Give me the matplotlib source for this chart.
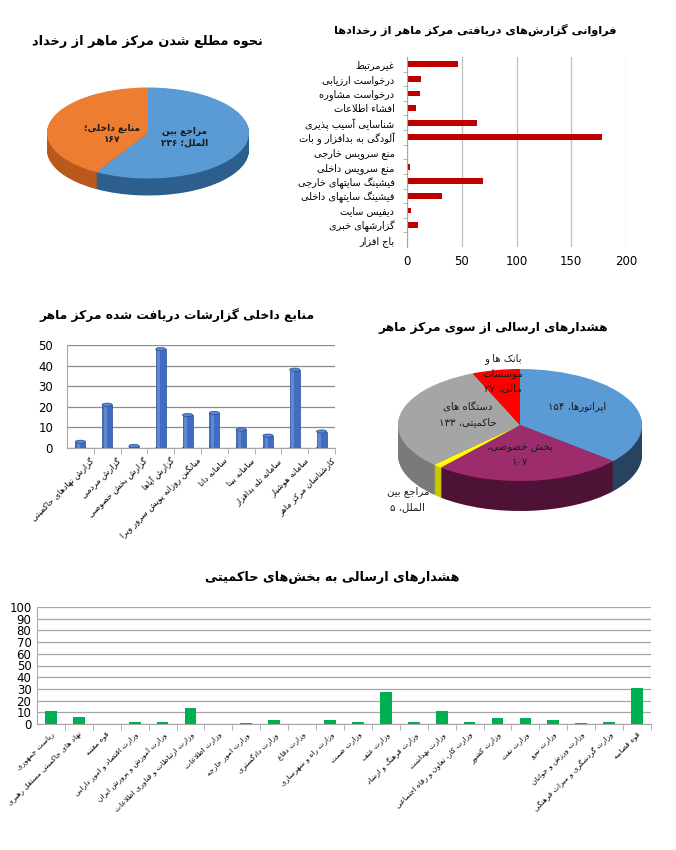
import matplotlib
matplotlib.use("Agg")
import matplotlib.pyplot as plt
from matplotlib.patches import Ellipse
from matplotlib.transforms import ScaledTranslation

W, H = 676, 850

# ---------------- data ----------------
PIE1_TITLE = "نحوه مطلع شدن مرکز ماهر از رخداد"
PIE1_LABEL_FMT = ["مراجع بین\nالملل؛ {}", "منابع داخلی؛\n{}"]
PIE1_VALUES = [236, 167]

BARH_TITLE = "فراوانی گزارش‌های دریافتی مرکز ماهر از رخدادها"
BARH_CATS = [
    "غیرمرتبط", "درخواست ارزیابی", "درخواست مشاوره", "افشاء اطلاعات",
    "شناسایی آسیب پذیری", "آلودگی به بدافزار و بات", "منع سرویس خارجی",
    "منع سرویس داخلی", "فیشینگ سایتهای خارجی", "فیشینگ سایتهای داخلی",
    "دیفیس سایت", "گزارشهای خبری", "باج افزار",
]
BARH_VALUES = [47, 13, 12, 8, 64, 178, 1, 3, 69, 32, 4, 10, 1]
BARH_TICKS = [0, 50, 100, 150, 200]

SRC_TITLE = "منابع داخلی گزارشات دریافت شده مرکز ماهر"
SRC_CATS = [
    "گزارش نهادهای حاکمیتی", "گزارش مردمی", "گزارش بخش خصوصی", "گزارش آپاها",
    "میانگین روزانه پویش سرور ویرا", "سامانه دانا", "سامانه بینا",
    "سامانه تله بدافزار", "سامانه هوشیار", "کارشناسان مرکز ماهر",
]
SRC_VALUES = [3, 21, 1, 48, 16, 17, 9, 6, 38, 8]
SRC_TICKS = [0, 10, 20, 30, 40, 50]

PIE2_TITLE = "هشدارهای ارسالی از سوی مرکز ماهر"
PIE2_LABEL_FMT = [
    "اپراتورها، {}", "بخش خصوصی،\n{}", "مراجع بین\nالملل، {}",
    "دستگاه های\nحاکمیتی، {}", "بانک ها و\nموسسات\nمالی، {}",
]
PIE2_VALUES = [154, 107, 5, 133, 27]

GOV_TITLE = "هشدارهای ارسالی به بخش‌های حاکمیتی"
GOV_CATS = [
    "ریاست جمهوری", "نهاد های حاکمیتی مستقل رهبری", "قوه مقننه",
    "وزارت اقتصاد و امور دارایی", "وزارت آموزش و پرورش ایران",
    "وزارت ارتباطات و فناوری اطلاعات", "وزارت اطلاعات", "وزارت امور خارجه",
    "وزارت دادگستری", "وزارت دفاع", "وزارت راه و شهرسازی", "وزارت صمت",
    "وزارت عتف", "وزارت فرهنگ و ارشاد", "وزارت بهداشت",
    "وزارت کار، تعاون و رفاه اجتماعی", "وزارت کشور", "وزارت نفت",
    "وزارت نیرو", "وزارت ورزش و جوانان", "وزارت گردشگری و میراث فرهنگی",
    "قوه قضاییه",
]
GOV_VALUES = [11, 6, 0, 2, 2, 14, 0, 1, 3, 0, 3, 2, 27, 2, 11, 2, 5, 5, 3, 1, 2, 31]
GOV_TICKS = list(range(0, 101, 10))

# ---------------- persian shaping (no bidi lib available) ----------------
DUAL = {
    0x0626: 0xFE89, 0x0628: 0xFE8F, 0x062A: 0xFE95, 0x062B: 0xFE99,
    0x062C: 0xFE9D, 0x062D: 0xFEA1, 0x062E: 0xFEA5, 0x0633: 0xFEB1,
    0x0634: 0xFEB5, 0x0635: 0xFEB9, 0x0636: 0xFEBD, 0x0637: 0xFEC1,
    0x0638: 0xFEC5, 0x0639: 0xFEC9, 0x063A: 0xFECD, 0x0641: 0xFED1,
    0x0642: 0xFED5, 0x0643: 0xFED9, 0x0644: 0xFEDD, 0x0645: 0xFEE1,
    0x0646: 0xFEE5, 0x0647: 0xFEE9, 0x064A: 0xFEF1, 0x067E: 0xFB56,
    0x0686: 0xFB7A, 0x06A9: 0xFB8E, 0x06AF: 0xFB92, 0x06CC: 0xFBFC,
}
RIGHT = {
    0x0622: 0xFE81, 0x0623: 0xFE83, 0x0624: 0xFE85, 0x0625: 0xFE87,
    0x0627: 0xFE8D, 0x0629: 0xFE93, 0x062F: 0xFEA9, 0x0630: 0xFEAB,
    0x0631: 0xFEAD, 0x0632: 0xFEAF, 0x0648: 0xFEED, 0x0649: 0xFEEF,
    0x0698: 0xFB8A,
}
LAM_ALEF = {0x0622: 0xFEF5, 0x0623: 0xFEF7, 0x0625: 0xFEF9, 0x0627: 0xFEFB}
DIGITS = set("0123456789۰۱۲۳۴۵۶۷۸۹")


def join_type(g):
    kind, c = g
    if kind == "LA":
        return "R"
    if ord(c) in DUAL:
        return "D"
    if ord(c) in RIGHT:
        return "R"
    return "U"


def shape_line(line):
    glyphs = []
    i = 0
    while i < len(line):
        c = line[i]
        if c == "\u0644" and i + 1 < len(line) and ord(line[i + 1]) in LAM_ALEF:
            glyphs.append(("LA", line[i + 1]))
            i += 2
        else:
            glyphs.append(("C", c))
            i += 1
    out = []
    for k, g in enumerate(glyphs):
        t = join_type(g)
        prev_d = k > 0 and join_type(glyphs[k - 1]) == "D"
        next_j = k + 1 < len(glyphs) and join_type(glyphs[k + 1]) in ("D", "R")
        jp = t != "U" and prev_d
        jn = t == "D" and next_j
        kind, c = g
        if kind == "LA":
            out.append(chr(LAM_ALEF[ord(c)] + (1 if jp else 0)))
        elif t == "D":
            off = 3 if (jp and jn) else 1 if jp else 2 if jn else 0
            out.append(chr(DUAL[ord(c)] + off))
        elif t == "R":
            out.append(chr(RIGHT[ord(c)] + (1 if jp else 0)))
        elif c != "\u200c":
            out.append(c)
    # visual order: reverse, keeping digit runs left-to-right
    runs = []
    for ch in out:
        is_d = ch in DIGITS
        if runs and runs[-1][0] == is_d:
            runs[-1][1].append(ch)
        else:
            runs.append([is_d, [ch]])
    vis = ""
    for is_d, chars in reversed(runs):
        vis += "".join(chars) if is_d else "".join(reversed(chars))
    return vis


def fa(text):
    return "\n".join(shape_line(s) for s in text.split("\n"))


def fa_num(n):
    return str(n).translate(str.maketrans("0123456789", "۰۱۲۳۴۵۶۷۸۹"))


plt.rcParams["font.family"] = ["DejaVu Sans"]

fig = plt.figure(figsize=(W / 100, H / 100), dpi=100)


def px_axes(left, top, right, bottom):
    return fig.add_axes([left / W, 1 - bottom / H, (right - left) / W, (bottom - top) / H])


def title(x, y, text, size):
    fig.text(x / W, 1 - y / H, fa(text), ha="center", va="center",
             fontsize=size, fontweight="bold")


def shift_labels(ax, dx_px, dy_px=0):
    offset = ScaledTranslation(dx_px / 100, dy_px / 100, fig.dpi_scale_trans)
    for lab in ax.get_xticklabels():
        lab.set_transform(lab.get_transform() + offset)


def pie_3d(box, center, rx, ry, depth, values, colors, walls):
    ax = px_axes(*box)
    d = depth / ry
    steps = 30
    for k in range(steps, 0, -1):
        ax.pie(values, colors=walls, startangle=90, counterclock=False,
               center=(0, -d * k / steps), radius=1,
               wedgeprops={"linewidth": 0})
    ax.pie(values, colors=colors, startangle=90, counterclock=False,
           center=(0, 0), radius=1, wedgeprops={"linewidth": 0})
    left, top, right, bottom = box
    cx, cy = center
    ax.set_aspect("auto")
    ax.set_xlim((left - cx) / rx, (right - cx) / rx)
    ax.set_ylim((cy - bottom) / ry, (cy - top) / ry)
    ax.axis("off")
    return ax


# ---------------- pie 1 ----------------
title(147, 42, PIE1_TITLE, 9.3)
ax1 = pie_3d((30, 70, 266, 215), (148, 133), 101, 45.5, 17, PIE1_VALUES,
             ["#5B9BD5", "#ED7D31"], ["#2C5F8E", "#B9591C"])
for fmt, v, pos in zip(PIE1_LABEL_FMT, PIE1_VALUES, [(0.36, -0.09), (-0.36, -0.02)]):
    ax1.text(pos[0], pos[1], fa(fmt.format(fa_num(v))), ha="center", va="center",
             fontsize=6.5, fontweight="bold", color="#1a1a1a", linespacing=1.3)

# ---------------- horizontal bars ----------------
title(475, 30, BARH_TITLE, 8.2)
ax2 = px_axes(407, 57, 626, 247)
ypos = list(range(len(BARH_CATS)))
ax2.barh(ypos, BARH_VALUES, height=0.4, color="#C00000")
ax2.set_ylim(len(BARH_CATS) - 0.5, -0.5)
ax2.set_xlim(0, 200)
ax2.set_xticks(BARH_TICKS)
ax2.set_yticks(ypos)
ax2.set_yticklabels([fa(c) for c in BARH_CATS], fontsize=7)
ax2.tick_params(axis="y", length=0, pad=9)
ax2.tick_params(axis="x", length=0, labelsize=8.5, pad=6)
ax2.set_yticks([p + 0.5 for p in ypos[:-1]], minor=True)
ax2.tick_params(axis="y", which="minor", length=3, color="#A6A6A6")
ax2.grid(axis="x", color="#BFBFBF", linewidth=0.9)
ax2.set_axisbelow(True)
for s in ("top", "right", "bottom"):
    ax2.spines[s].set_visible(False)
ax2.spines["left"].set_color("#A6A6A6")

# ---------------- 3D-ish column chart ----------------
title(177, 315, SRC_TITLE, 8.8)
ax3 = px_axes(67, 345, 335, 448)
xs = list(range(len(SRC_CATS)))
bw = 0.38
ax3.bar(xs, SRC_VALUES, width=bw, color="#3F6DC4", edgecolor="#2A4E94", linewidth=0.5, zorder=3)
ax3.bar([x - bw * 0.18 for x in xs], SRC_VALUES, width=bw * 0.3, color="white",
        alpha=0.18, linewidth=0, zorder=4)
for x, v in zip(xs, SRC_VALUES):
    ax3.add_patch(Ellipse((x, 0), bw, 1.6, facecolor="#3F6DC4", edgecolor="#2A4E94",
                          linewidth=0.5, zorder=2))
    ax3.add_patch(Ellipse((x, v), bw, 1.6, facecolor="#5A86D8", edgecolor="#2A4E94",
                          linewidth=0.5, zorder=5, clip_on=False))
ax3.set_xlim(-0.5, len(SRC_CATS) - 0.5)
ax3.set_ylim(0, 50)
ax3.set_yticks(SRC_TICKS)
ax3.tick_params(axis="y", length=0, labelsize=8.5, pad=10)
ax3.set_xticks(xs)
ax3.set_xticklabels([fa(c) for c in SRC_CATS], rotation=45, ha="right",
                    rotation_mode="anchor", fontsize=6)
ax3.tick_params(axis="x", length=0, pad=6)
shift_labels(ax3, 9)
ax3.set_xticks([x + 0.5 for x in xs], minor=True)
ax3.tick_params(axis="x", which="minor", length=4, color="#A6A6A6")
ax3.grid(axis="y", color="#8C8C8C", linewidth=0.9)
ax3.set_axisbelow(True)
for s in ("top", "right"):
    ax3.spines[s].set_visible(False)
ax3.spines["left"].set_color("#A6A6A6")
ax3.spines["bottom"].set_color("#A6A6A6")

# ---------------- pie 2 ----------------
title(493, 327, PIE2_TITLE, 8.8)
ax4 = pie_3d((385, 345, 670, 535), (520, 425), 122, 56, 30, PIE2_VALUES,
             ["#5B9BD5", "#9C2C6C", "#FFFF00", "#A5A5A5", "#FF0000"],
             ["#27435F", "#4E1236", "#C9C900", "#7A7A7A", "#A00000"])
pie2_pos = [(0.47, 0.33), (0.0, -0.53), (-0.92, -1.32), (-0.43, 0.18), (-0.14, 0.93)]
for fmt, v, pos in zip(PIE2_LABEL_FMT, PIE2_VALUES, pie2_pos):
    ax4.text(pos[0], pos[1], fa(fmt.format(fa_num(v))), ha="center", va="center",
             fontsize=7.3, color="#1a1a1a", linespacing=1.6)

# ---------------- government bars ----------------
title(332, 577, GOV_TITLE, 9.2)
ax5 = px_axes(37, 607, 651, 724)
gx = list(range(len(GOV_CATS)))
ax5.bar(gx, GOV_VALUES, width=0.42, color="#00B050", zorder=3)
ax5.set_xlim(-0.5, len(GOV_CATS) - 0.5)
ax5.set_ylim(0, 100)
ax5.set_yticks(GOV_TICKS)
ax5.tick_params(axis="y", length=0, labelsize=8.5, pad=4)
ax5.set_xticks(gx)
ax5.set_xticklabels([fa(c) for c in GOV_CATS], rotation=45, ha="right",
                    rotation_mode="anchor", fontsize=5.4)
ax5.tick_params(axis="x", length=0, pad=5)
ax5.set_xticks([x + 0.5 for x in gx], minor=True)
ax5.tick_params(axis="x", which="minor", length=4, color="#A6A6A6")
ax5.grid(axis="y", color="#A6A6A6", linewidth=0.9)
ax5.set_axisbelow(True)
for s in ("top", "right"):
    ax5.spines[s].set_visible(False)
ax5.spines["left"].set_color("#A6A6A6")
ax5.spines["bottom"].set_color("#A6A6A6")

fig.savefig("out.png", dpi=100)
